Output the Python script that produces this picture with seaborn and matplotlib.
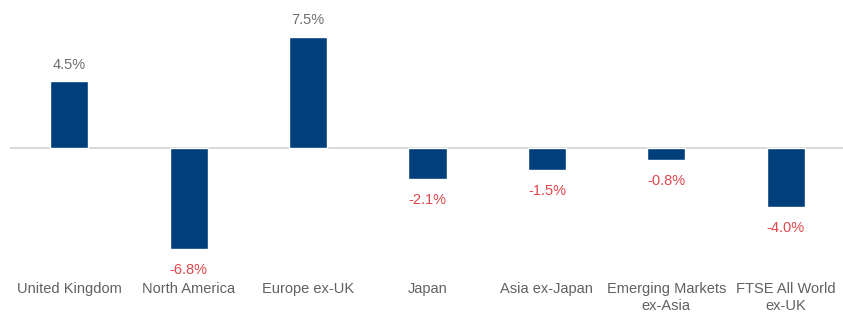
import matplotlib
matplotlib.use("Agg")
import matplotlib.pyplot as plt
import seaborn as sns
import pandas as pd

categories = ["United Kingdom", "North America", "Europe ex-UK", "Japan",
              "Asia ex-Japan", "Emerging Markets\nex-Asia", "FTSE All World\nex-UK"]
values = [4.5, -6.8, 7.5, -2.1, -1.5, -0.8, -4.0]
value_labels = ["4.5%", "-6.8%", "7.5%", "-2.1%", "-1.5%", "-0.8%", "-4.0%"]

sns.set_theme(style="white")
plt.rcParams['font.family'] = ['Liberation Sans', 'DejaVu Sans']

df = pd.DataFrame({"cat": categories, "val": values})

fig = plt.figure(figsize=(8.43, 3.15), dpi=100)
ax = fig.add_axes([9.5/843, 37/315, 836/843, 278/315])
sns.barplot(data=df, x="cat", y="val", color="#003F7A", width=0.32,
            saturation=1, ax=ax, zorder=3)
ax.axhline(0, color="#D3D3D3", lw=1.2, zorder=2)
ax.set_ylim(-8.78, 10.0)
ax.set_xlim(-0.5, 6.5)
for s in ax.spines.values():
    s.set_visible(False)
ax.set_yticks([])
ax.set_xlabel("")
ax.set_ylabel("")
ax.tick_params(axis="x", length=0, pad=3, labelsize=10.5, labelcolor="#616161")
for t in ax.get_xticklabels():
    t.set_linespacing(1.3)

for i, (v, lab) in enumerate(zip(values, value_labels)):
    if v >= 0:
        ax.annotate(lab, (i, v), xytext=(0, 7), textcoords="offset points",
                    ha="center", va="bottom", fontsize=10.5, color="#6E6E6E")
    else:
        ax.annotate(lab, (i, v), xytext=(0, -10), textcoords="offset points",
                    ha="center", va="top", fontsize=10.5, color="#E0474C")

fig.savefig("out.png", dpi=100)
